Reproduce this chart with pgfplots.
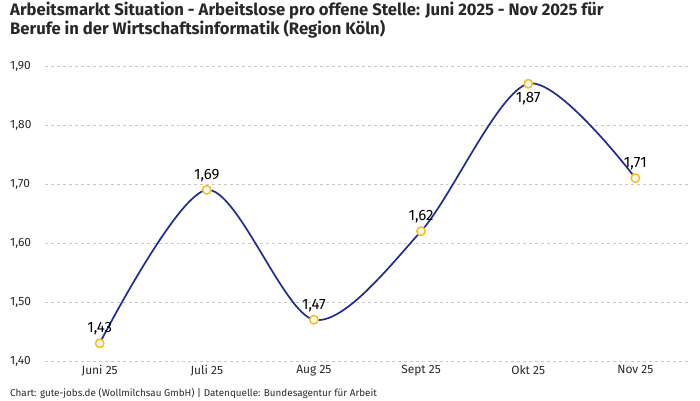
\documentclass[border=0pt]{standalone}
\usepackage{fontspec}
\setmainfont{Fira Sans}
\usepackage{pgfplots}
\usepackage{pgfplotstable}
\pgfplotsset{compat=1.18}

\definecolor{linecol}{RGB}{30,45,150}
\definecolor{markcol}{RGB}{252,190,30}
\definecolor{gridcol}{RGB}{200,200,200}
\definecolor{txtcol}{RGB}{40,40,40}

\pgfplotstableread{
x y dir
0 1.43 1
1 1.69 1
2 1.47 1
3 1.62 1
4 1.87 -1
5 1.71 1
}\datatab

\begin{document}
\begin{tikzpicture}[x=1bp,y=1bp]
\path[use as bounding box] (0,0) rectangle (700,400);
\node[anchor=west, font=\bfseries\fontsize{16.7}{19}\selectfont, text=txtcol, inner sep=0pt] at (10,389) {Arbeitsmarkt Situation - Arbeitslose pro offene Stelle: Juni 2025 - Nov 2025 für};
\node[anchor=west, font=\bfseries\fontsize{16.7}{19}\selectfont, text=txtcol, inner sep=0pt] at (10,371) {Berufe in der Wirtschaftsinformatik (Region Köln)};
\node[anchor=west, font=\fontsize{9.9}{11}\selectfont, text=txtcol, inner sep=0pt] at (10,7) {Chart: gute-jobs.de (Wollmilchsau GmbH) | Datenquelle: Bundesagentur für Arbeit};
\begin{axis}[
    at={(45bp,39bp)}, anchor=south west,
    width=645bp, height=295bp, scale only axis,
    xmin=-0.51, xmax=5.51,
    ymin=1.4, ymax=1.9,
    xtick={0,1,2,3,4,5},
    xticklabels={Juni 25, Juli 25, Aug 25, Sept 25, Okt 25, Nov 25},
    ytick={1.4,1.5,1.6,1.7,1.8,1.9},
    yticklabel={\pgfmathprintnumber[fixed, fixed zerofill, precision=2, use comma]{\tick}},
    /pgf/number format/assume math mode=true,
    ticklabel style={font=\fontsize{12}{13}\selectfont, text=txtcol},
    yticklabel style={anchor=west, xshift=-35bp, inner sep=0pt},
    xticklabel style={yshift=-1bp},
    axis line style={draw=none},
    major tick length=0pt,
    ymajorgrids,
    grid style={gridcol, dashed, line width=0.6pt},
    clip=false,
]
\addplot[linecol, line width=1.7pt, smooth, tension=0.5,
    mark=*, mark size=4.2pt,
    mark options={draw=markcol, fill=white, line width=1.6pt},
    nodes near coords={\pgfmathprintnumber[fixed, fixed zerofill, precision=2, use comma]{\pgfplotspointmeta}},
    point meta=\thisrow{y},
    visualization depends on={\thisrow{dir} \as \dir},
    every node near coord/.append style={anchor=center, yshift=\dir*14.5bp, font=\fontsize{15}{16}\selectfont, text=black, inner sep=0pt},
] table[x=x, y=y] {\datatab};
\end{axis}
\end{tikzpicture}
\end{document}
